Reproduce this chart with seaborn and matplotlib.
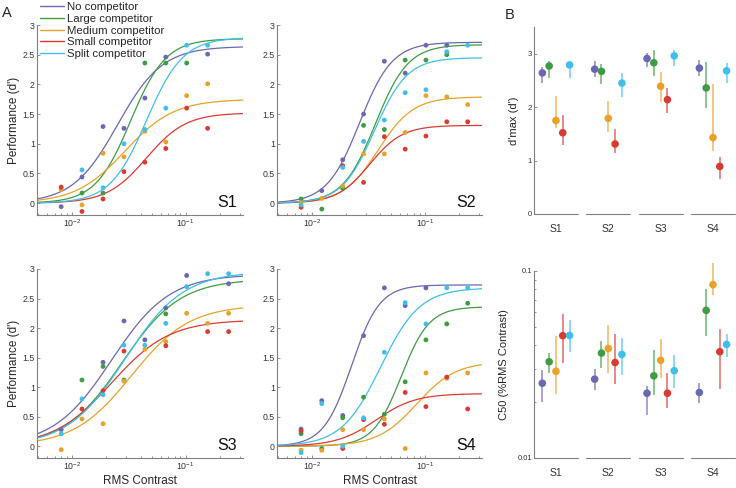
import numpy as np
import pandas as pd
import matplotlib
matplotlib.use("Agg")
import matplotlib.pyplot as plt
import seaborn as sns
from matplotlib.lines import Line2D
from matplotlib.ticker import LogLocator, NullFormatter, FixedLocator, FixedFormatter

sns.set_style("ticks")
plt.rcParams['font.family'] = ['Liberation Sans', 'DejaVu Sans']
plt.rcParams['mathtext.default'] = 'regular'

conditions = ["No competitor", "Large competitor", "Medium competitor",
              "Small competitor", "Split competitor"]
colors = ["#6a68b0", "#3f9c45", "#eaa12a", "#d83b35", "#40bfea"]
subjects = ["S1", "S2", "S3", "S4"]

# RMS contrast levels
contrast = [0.008, 0.0122, 0.0187, 0.0286, 0.0437, 0.0668, 0.102, 0.156, 0.239]
nan = np.nan

# performance (d') per contrast level; nan = dot not visible
s1_no     = [-0.06, 0.44, 1.29, 1.26, 1.77, 2.46, nan, 2.51, nan]
s1_large  = [nan, 0.17, 0.17, nan, 2.36, 2.36, 2.36, nan, nan]
s1_medium = [0.23, -0.03, 0.84, 0.78, 1.21, 1.03, 1.81, 2.01, nan]
s1_small  = [0.27, -0.14, 0.07, 0.53, 0.69, 0.92, 1.60, 1.26, nan]
s1_split  = [nan, 0.56, 0.26, 1.00, 1.24, 1.60, 2.66, 2.66, nan]

s2_no     = [nan, 0.21, 0.73, 1.50, 2.39, 2.19, 2.66, 2.66, nan]
s2_large  = [0.07, -0.10, 0.25, 1.31, 1.24, 2.41, 2.41, 2.50, nan]
s2_medium = [0.01, 0.08, 0.29, 0.83, 0.83, 1.19, 1.81, 1.79, 1.66]
s2_small  = [-0.07, nan, 0.63, 0.35, 1.12, 0.91, 1.13, 1.37, 1.37]
s2_split  = [-0.03, nan, 0.60, 1.04, 1.40, 1.86, 1.91, 2.55, 2.66]

s3_no     = [0.28, nan, 1.42, 2.12, 1.80, 2.34, 2.89, nan, 2.75]
s3_large  = [nan, 1.12, 1.35, 1.12, nan, 2.24, nan, nan, nan]
s3_medium = [-0.06, 0.46, 0.38, 1.10, 1.64, 1.77, 2.25, 2.08, 2.25]
s3_small  = [nan, 0.63, 0.94, 1.61, nan, 1.70, nan, 1.94, 1.94]
s3_split  = [0.21, 0.80, 0.87, 1.71, 1.71, 2.08, 2.70, 2.92, 2.92]

s4_no     = [0.29, 0.77, 0.52, 1.87, 2.68, 2.38, 2.68, nan, nan]
s4_large  = [0.21, -0.04, 0.48, 0.83, 0.54, 1.09, 1.80, 2.07, 2.42]
s4_medium = [-0.07, -0.07, 0.28, 0.28, 0.46, -0.04, 1.24, 1.15, 1.24]
s4_small  = [0.26, nan, -0.04, 0.45, 0.37, 0.91, 0.67, 1.17, 0.63]
s4_split  = [-0.11, 0.72, 0.00, 0.48, 1.59, 2.43, 2.07, 2.68, 2.68]

# fitted parameters per subject (S1..S4), with CI bounds
dmax_no     = [2.64, 2.71, 2.91, 2.73]
dmax_large  = [2.77, 2.67, 2.83, 2.36]
dmax_medium = [1.75, 1.79, 2.39, 1.43]
dmax_small  = [1.52, 1.31, 2.14, 0.89]
dmax_split  = [2.79, 2.45, 2.96, 2.68]
dmax_lo = [[2.45, 2.57, 2.75, 2.58], [2.55, 2.44, 2.59, 1.98], [1.61, 1.54, 2.10, 1.17],
           [1.30, 1.14, 1.89, 0.66], [2.55, 2.19, 2.77, 2.46]]
dmax_hi = [[2.76, 2.86, 3.02, 2.89], [2.87, 2.80, 3.06, 2.84], [2.21, 2.11, 2.65, 2.43],
           [1.85, 1.59, 2.35, 1.06], [2.87, 2.64, 3.07, 2.83]]

c50_no     = [0.0251, 0.0264, 0.0222, 0.0224]
c50_large  = [0.0327, 0.0364, 0.0275, 0.0616]
c50_medium = [0.0291, 0.0385, 0.0333, 0.0845]
c50_small  = [0.0451, 0.0324, 0.0222, 0.0370]
c50_split  = [0.0452, 0.0358, 0.0293, 0.0405]
c50_lo = [[0.0199, 0.0231, 0.0169, 0.0196], [0.0286, 0.0302, 0.0218, 0.0449],
          [0.0220, 0.0286, 0.0267, 0.0748], [0.0324, 0.0249, 0.0184, 0.0234],
          [0.0367, 0.0278, 0.0238, 0.0348]]
c50_hi = [[0.0296, 0.0298, 0.0244, 0.0251], [0.0366, 0.0422, 0.0377, 0.0798],
          [0.0449, 0.0513, 0.0435, 0.111], [0.0588, 0.0458, 0.0284, 0.0489],
          [0.0546, 0.0440, 0.0356, 0.0460]]

slope_no     = [2.2, 3.0, 1.7, 3.5]
slope_large  = [2.8, 3.0, 1.7, 3.5]
slope_medium = [2.0, 2.8, 1.7, 2.5]
slope_small  = [2.5, 3.0, 1.7, 2.5]
slope_split  = [2.7, 3.0, 1.7, 2.5]

points = [[s1_no, s1_large, s1_medium, s1_small, s1_split],
          [s2_no, s2_large, s2_medium, s2_small, s2_split],
          [s3_no, s3_large, s3_medium, s3_small, s3_split],
          [s4_no, s4_large, s4_medium, s4_small, s4_split]]
dmax = [dmax_no, dmax_large, dmax_medium, dmax_small, dmax_split]
c50 = [c50_no, c50_large, c50_medium, c50_small, c50_split]
slope = [slope_no, slope_large, slope_medium, slope_small, slope_split]

rows = []
for s, series in zip(subjects, points):
    for cond, vals in zip(conditions, series):
        for c, v in zip(contrast, vals):
            rows.append((s, cond, c, v))
pts = pd.DataFrame(rows, columns=["subject", "condition", "contrast", "dprime"]).dropna()

XLIM = (0.0049, 0.32)
grid = np.logspace(np.log10(XLIM[0]), np.log10(XLIM[1]), 200)
crows = []
for i, s in enumerate(subjects):
    for k, cond in enumerate(conditions):
        n = slope[k][i]
        y = dmax[k][i] * grid ** n / (grid ** n + c50[k][i] ** n)
        for c, v in zip(grid, y):
            crows.append((s, cond, c, v))
curves = pd.DataFrame(crows, columns=["subject", "condition", "contrast", "dprime"])

palette = dict(zip(conditions, colors))
SPINE = "#808080"
TXT = "#333333"

fig = plt.figure(figsize=(7.36, 4.88), dpi=100)

a_pos = [[0.0503, 0.5594, 0.2799, 0.3893], [0.3764, 0.5594, 0.2785, 0.3893],
         [0.0503, 0.0615, 0.2799, 0.3873], [0.3764, 0.0615, 0.2785, 0.3873]]

for i, s in enumerate(subjects):
    ax = fig.add_axes(a_pos[i])
    sns.lineplot(data=curves[curves.subject == s], x="contrast", y="dprime", hue="condition",
                 palette=palette, hue_order=conditions, lw=0.9, legend=False, ax=ax)
    sns.scatterplot(data=pts[pts.subject == s], x="contrast", y="dprime", hue="condition",
                    palette=palette, hue_order=conditions, s=12, linewidth=0, legend=False,
                    ax=ax, zorder=3)
    ax.set_xscale("log")
    ax.set_xlim(*XLIM)
    ax.set_ylim(-0.2, 3)
    ax.set_yticks([0, 0.5, 1, 1.5, 2, 2.5, 3])
    ax.set_yticklabels(["0", "0.5", "1", "1.5", "2", "2.5", "3"])
    ax.xaxis.set_major_locator(FixedLocator([0.01, 0.1]))
    ax.xaxis.set_major_formatter(FixedFormatter([r"$10^{-2}$", r"$10^{-1}$"]))
    ax.xaxis.set_minor_locator(LogLocator(base=10, subs=np.arange(2, 10), numticks=10))
    ax.xaxis.set_minor_formatter(NullFormatter())
    for sp in ["top", "right"]:
        ax.spines[sp].set_visible(False)
    for sp in ["left", "bottom"]:
        ax.spines[sp].set_color(SPINE)
        ax.spines[sp].set_linewidth(0.8)
    ax.tick_params(which="both", direction="in", colors=SPINE, labelcolor=TXT,
                   labelsize=6.3, pad=1.5, width=0.6)
    ax.tick_params(which="major", length=2.5)
    ax.tick_params(which="minor", length=1.5)
    ax.set_ylabel("Performance (d')" if i in (0, 2) else "", fontsize=8.5, labelpad=2)
    ax.set_xlabel("RMS Contrast" if i >= 2 else "", fontsize=8.5, labelpad=2)
    ax.text(0.97, 0.065, s, transform=ax.transAxes, ha="right", va="center", fontsize=11.5,
            color="#111111")

handles = [Line2D([0], [0], color=c, lw=1) for c in colors]
fig.legend(handles, conditions, loc="upper left", bbox_to_anchor=(40 / 736, 0.995),
           frameon=False, fontsize=8.2, handlelength=2.1, handletextpad=0.3,
           labelspacing=0.14, borderaxespad=0, borderpad=0.0)

fig.text(7 / 736, 1 - 13 / 488, "A", fontsize=10.5, ha="center", va="center")
fig.text(510 / 736, 1 - 15 / 488, "B", fontsize=10.5, ha="center", va="center")

# panel B
offsets = [-0.26, -0.13, 0.0, 0.13, 0.26]
groups = np.arange(1, 5)
brows = []
for k, cond in enumerate(conditions):
    for g in range(4):
        brows.append((cond, groups[g] + offsets[k], dmax[k][g], dmax_lo[k][g], dmax_hi[k][g],
                      c50[k][g], c50_lo[k][g], c50_hi[k][g]))
bdf = pd.DataFrame(brows, columns=["condition", "xpos", "dmax", "dlo", "dhi", "c50", "clo", "chi"])

b_pos = [[0.7255, 0.5615, 0.2731, 0.3832], [0.7255, 0.0615, 0.2731, 0.3832]]
for j, (col, lo, hi) in enumerate([("dmax", "dlo", "dhi"), ("c50", "clo", "chi")]):
    ax = fig.add_axes(b_pos[j])
    for k, cond in enumerate(conditions):
        sub = bdf[bdf.condition == cond]
        ax.vlines(sub.xpos, sub[lo], sub[hi], color=colors[k], lw=1.4, alpha=0.6,
                  clip_on=False, zorder=2)
    sns.scatterplot(data=bdf, x="xpos", y=col, hue="condition", palette=palette,
                    hue_order=conditions, s=30, linewidth=0, legend=False, ax=ax,
                    zorder=3, clip_on=False)
    ax.set_xlim(0.58, 4.42)
    ax.set_xticks(groups)
    ax.set_xticklabels(subjects, fontsize=7.5, color=TXT)
    ax.set_xlabel("")
    for g in groups:
        ax.plot([g - 0.42, g + 0.42], [0, 0], color=SPINE, lw=0.8,
                transform=ax.get_xaxis_transform(), clip_on=False)
    for sp in ["top", "right", "bottom"]:
        ax.spines[sp].set_visible(False)
    ax.spines["left"].set_color(SPINE)
    ax.spines["left"].set_linewidth(0.8)
    ax.tick_params(axis="x", length=0, pad=7)
    ax.tick_params(axis="y", which="both", direction="in", colors=SPINE, labelcolor=TXT,
                   labelsize=5.5, pad=1.5, width=0.6)
    if j == 0:
        ax.set_ylim(0, 3.5)
        ax.set_yticks([0, 1, 2, 3])
        ax.set_yticklabels(["0", "1", "2", "3"])
        ax.set_ylabel("d'max (d')", fontsize=8, labelpad=6)
        ax.tick_params(axis="y", length=2.5)
    else:
        ax.set_yscale("log")
        ax.set_ylim(0.01, 0.1)
        ax.yaxis.set_major_locator(FixedLocator([0.01, 0.1]))
        ax.yaxis.set_major_formatter(FixedFormatter(["0.01", "0.1"]))
        ax.yaxis.set_minor_locator(LogLocator(base=10, subs=np.arange(2, 10), numticks=10))
        ax.yaxis.set_minor_formatter(NullFormatter())
        ax.tick_params(axis="y", which="major", length=2.5)
        ax.tick_params(axis="y", which="minor", length=1.5)
        ax.set_ylabel("C50 (%RMS Contrast)", fontsize=8, labelpad=6)

fig.savefig("out.png", dpi=100)
